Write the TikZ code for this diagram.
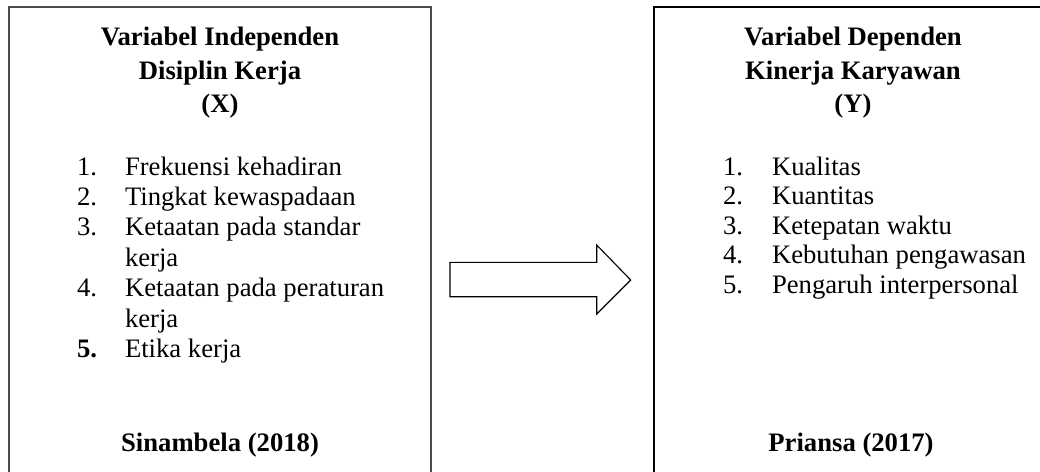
\documentclass[tikz,border=0pt]{standalone}
\usepackage{fontspec}
\setmainfont{Liberation Serif}
\begin{document}
\begin{tikzpicture}[x=0.45pt,y=-0.45pt,
  every node/.style={inner sep=0pt,outer sep=0pt,font=\fontsize{12pt}{14pt}\selectfont},
  title/.style={anchor=base,font=\fontsize{12pt}{14pt}\selectfont\bfseries},
  item/.style={anchor=base west},
  leftbox/.style={draw=black!70,line width=0.9pt},
  rightbox/.style={draw=black,line width=0.6pt},
  blockarrow/.style={draw=black,line width=0.5pt,line join=miter,fill=white}]
\useasboundingbox (0,0) rectangle (1040,471);
\clip (0,0) rectangle (1040,471);
% boxes
\coordinate (L1) at (9,7); \coordinate (L2) at (431,520);
\coordinate (R1) at (654,7); \coordinate (R2) at (1050,520);
\draw[leftbox] (L1) rectangle (L2);
\draw[rightbox] (R1) rectangle (R2);
% block arrow
\coordinate (a1) at (450,262.3); \coordinate (a2) at (596.7,262.3);
\coordinate (a3) at (596.7,245); \coordinate (a4) at (630.7,280);
\coordinate (a5) at (596.7,314); \coordinate (a6) at (596.7,296.7);
\coordinate (a7) at (450,296.7);
\draw[blockarrow] (a1) -- (a2) -- (a3) -- (a4) -- (a5) -- (a6) -- (a7) -- cycle;
% left titles
\node[title] (lt1) at (220,45) {Variabel Independen};
\node[title] (lt2) at (220,79) {Disiplin Kerja};
\node[title] (lt3) at (220,112) {(X)};
% left list
\node[item] (ln1) at (77,175) {1.};
\node[item] (li1) at (125,175) {Frekuensi kehadiran};
\node[item] (ln2) at (77,205) {2.};
\node[item] (li2) at (125,205) {Tingkat kewaspadaan};
\node[item] (ln3) at (77,235) {3.};
\node[item] (li3) at (125,235) {Ketaatan pada standar};
\node[item] (li3b) at (125,266.5) {kerja};
\node[item] (ln4) at (77,296.5) {4.};
\node[item] (li4) at (125,296.5) {Ketaatan pada peraturan};
\node[item] (li4b) at (125,327) {kerja};
\node[item] (ln5) at (77,357.5) {\textbf{5.}};
\node[item] (li5) at (125,357.5) {Etika kerja};
\node[title] (lsrc) at (220,451.7) {Sinambela (2018)};
% right titles
\node[title] (rt1) at (853,45) {Variabel Dependen};
\node[title] (rt2) at (853,79) {Kinerja Karyawan};
\node[title] (rt3) at (853,112) {(Y)};
% right list
\node[item] (rn1) at (723,175) {1.};
\node[item] (ri1) at (772,175) {Kualitas};
\node[item] (rn2) at (723,204.5) {2.};
\node[item] (ri2) at (772,204.5) {Kuantitas};
\node[item] (rn3) at (723,234) {3.};
\node[item] (ri3) at (772,234) {Ketepatan waktu};
\node[item] (rn4) at (723,263.5) {4.};
\node[item] (ri4) at (772,263.5) {Kebutuhan pengawasan};
\node[item] (rn5) at (723,293) {5.};
\node[item] (ri5) at (772,293) {Pengaruh interpersonal};
\node[title] (rsrc) at (851,451.7) {Priansa (2017)};
\end{tikzpicture}
\end{document}
